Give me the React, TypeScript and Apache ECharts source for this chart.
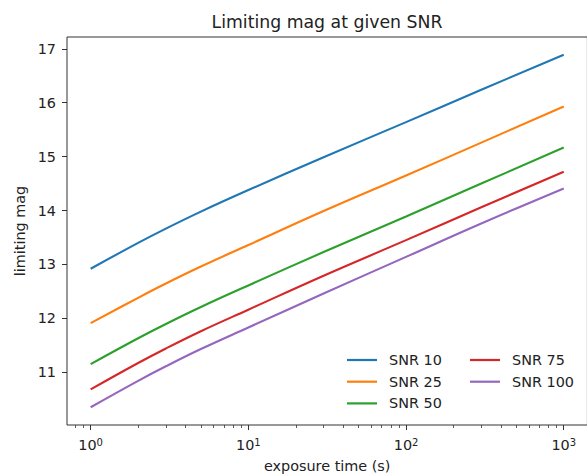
import React, { useEffect, useRef } from "react";
import * as echarts from "echarts";

const exposureTimes = [1, 2, 3, 5, 10, 30, 100, 300, 1000];
const snr10 = [12.92, 13.4, 13.665, 13.98, 14.38, 14.99, 15.64, 16.24, 16.89];
const snr25 = [11.91, 12.38, 12.645, 12.96, 13.36, 13.99, 14.65, 15.26, 15.93];
const snr50 = [11.15, 11.63, 11.895, 12.21, 12.61, 13.23, 13.89, 14.5, 15.17];
const snr75 = [10.68, 11.17, 11.44, 11.76, 12.16, 12.79, 13.45, 14.06, 14.72];
const snr100 = [10.35, 10.84, 11.11, 11.43, 11.83, 12.46, 13.14, 13.76, 14.41];
const seriesNames = ["SNR 10", "SNR 25", "SNR 50", "SNR 75", "SNR 100"];
const seriesValues = [snr10, snr25, snr50, snr75, snr100];
const xMajorExponents = [0, 1, 2, 3];
const yTicks = [11, 12, 13, 14, 15, 16, 17];

const colors = ["#1f77b4", "#ff7f0e", "#2ca02c", "#d62728", "#9467bd"];
const FONT = "DejaVu Sans";
const TXT = "#222";

const X_MIN = -0.15;
const X_MAX = 3.15;
const Y_MIN = 10.02;
const Y_MAX = 17.22;

const minorTicks: number[] = [];
for (let e = -1; e <= 3; e++) {
  for (let k = 2; k <= 9; k++) {
    const v = Math.log10(k) + e;
    if (v >= X_MIN && v <= X_MAX) minorTicks.push(v);
  }
}

export default function App() {
  const ref = useRef<HTMLDivElement>(null);
  useEffect(() => {
    if (!ref.current) return;
    const chart = echarts.init(ref.current, null, { renderer: "svg" });
    const legendBase = {
      orient: "vertical",
      top: 352,
      padding: 0,
      itemGap: 5.7,
      itemWidth: 30,
      itemHeight: 2.2,
      icon: "rect",
      selectedMode: false,
      textStyle: { fontFamily: FONT, fontSize: 14.4, color: TXT, lineHeight: 16, padding: [0, 0, 0, 7] },
    };
    const option: any = {
      animation: false,
      backgroundColor: "#fff",
      title: {
        text: "Limiting mag at given SNR",
        left: 327,
        top: 13,
        padding: 0,
        textAlign: "center",
        textStyle: { fontFamily: FONT, fontSize: 17.3, fontWeight: "normal", color: TXT },
      },
      grid: {
        left: 67,
        top: 37,
        width: 520.4,
        height: 388,
        show: true,
        borderColor: "#333",
        borderWidth: 1,
        backgroundColor: "transparent",
        containLabel: false,
        outerBoundsMode: "none",
      },
      legend: [
        { ...legendBase, data: seriesNames.slice(0, 3), left: 347 },
        { ...legendBase, data: seriesNames.slice(3), left: 470 },
      ],
      xAxis: [
        {
          type: "value",
          min: X_MIN,
          max: X_MAX,
          position: "bottom",
          name: "exposure time (s)",
          nameLocation: "middle",
          nameGap: 34,
          nameTextStyle: { fontFamily: FONT, fontSize: 14.4, color: TXT },
          axisLine: { show: false, onZero: false },
          splitLine: { show: false },
          axisTick: {
            show: true,
            length: 5,
            customValues: xMajorExponents,
            lineStyle: { color: "#333", width: 1 },
          },
          axisLabel: {
            show: true,
            customValues: xMajorExponents,
            margin: 12,
            fontFamily: FONT,
            fontSize: 14.4,
            lineHeight: 16,
            color: TXT,
            formatter: (v: number) => `10{sup|${Math.round(v)}}`,
            rich: {
              sup: { fontFamily: FONT, fontSize: 10, lineHeight: 8, verticalAlign: "top", color: TXT },
            },
          },
        },
        {
          type: "value",
          min: X_MIN,
          max: X_MAX,
          position: "bottom",
          axisLine: { show: false, onZero: false },
          splitLine: { show: false },
          axisLabel: { show: false },
          axisTick: {
            show: true,
            length: 3,
            customValues: minorTicks,
            lineStyle: { color: "#333", width: 0.8 },
          },
        },
      ],
      yAxis: {
        type: "value",
        min: Y_MIN,
        max: Y_MAX,
        position: "left",
        name: "limiting mag",
        nameLocation: "middle",
        nameGap: 37,
        nameRotate: 90,
        nameTextStyle: { fontFamily: FONT, fontSize: 14.4, color: TXT },
        axisLine: { show: false, onZero: false },
        splitLine: { show: false },
        axisTick: {
          show: true,
          length: 5,
          customValues: yTicks,
          lineStyle: { color: "#333", width: 1 },
        },
        axisLabel: {
          show: true,
          customValues: yTicks,
          margin: 11,
          fontFamily: FONT,
          fontSize: 14.4,
          color: TXT,
          formatter: (v: number) => String(Math.round(v)),
        },
      },
      series: seriesNames.map((name, i) => ({
        name,
        type: "line",
        xAxisIndex: 0,
        symbol: "none",
        smooth: 0.4,
        color: colors[i],
        lineStyle: { color: colors[i], width: 2.1 },
        data: exposureTimes.map((t, j) => [Math.log10(t), seriesValues[i][j]]),
      })),
    };
    chart.setOption(option);
    return () => chart.dispose();
  }, []);
  return (
    <div
      ref={ref}
      style={{ position: "fixed", left: 0, top: 0, width: 587, height: 476, background: "#fff" }}
    />
  );
}
